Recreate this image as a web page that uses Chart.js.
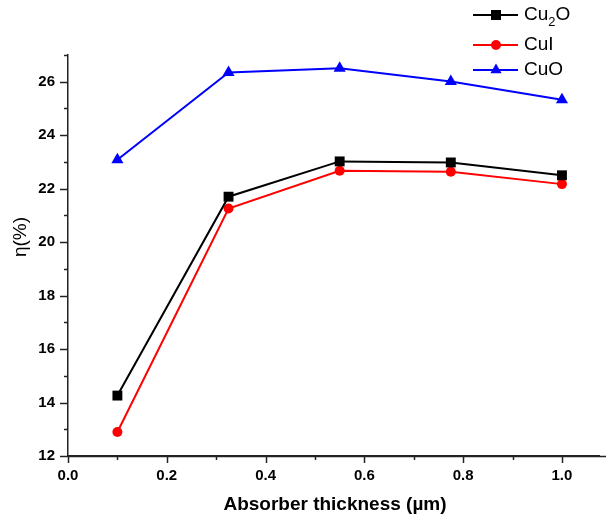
<!DOCTYPE html>
<html>
<head>
<meta charset="utf-8">
<script src="https://cdn.jsdelivr.net/npm/chart.js@4.4.1/dist/chart.umd.min.js"></script>
<style>
  html, body { margin: 0; padding: 0; background: #fff; }
  #wrap { width: 606px; height: 520px; }
</style>
</head>
<body>
<div id="wrap"><canvas id="chart" width="606" height="520"></canvas></div>
<script>
// absorber thickness (um)
const thickness = [0.1, 0.325, 0.55, 0.775, 1.0];

// efficiency (%) per HTL
const cu2o = [14.26, 21.7, 23.02, 22.98, 22.5];
const cui = [12.9, 21.26, 22.67, 22.63, 22.17];
const cuo = [23.08, 26.35, 26.5, 26.01, 25.33];

const xTicks = [0.0, 0.2, 0.4, 0.6, 0.8, 1.0];
const yTicks = [12, 14, 16, 18, 20, 22, 24, 26];

const FONT = '"Liberation Sans", Arial, sans-serif';

function pts(values) {
    return thickness.map((t, i) => ({ x: t, y: values[i] }));
}

// draw a legend marker like the chart ones
function marker(ctx, style, x, y, color) {
    ctx.fillStyle = color;
    ctx.beginPath();
    if (style === "rect") {
        ctx.rect(x - 5, y - 5, 10, 10);
    } else if (style === "circle") {
        ctx.arc(x, y, 5, 0, Math.PI * 2);
    } else {
        ctx.moveTo(x, y - 6.5);
        ctx.lineTo(x + 5.6, y + 3.2);
        ctx.lineTo(x - 5.6, y + 3.2);
        ctx.closePath();
    }
    ctx.fill();
}

// ticks, axis titles and legend
const extras = {
    id: "extras",
    afterDraw(chart) {
        const ctx = chart.ctx;
        const xs = chart.scales.x;
        const ys = chart.scales.y;
        const area = chart.chartArea;

        ctx.save();
        ctx.strokeStyle = "#222";
        ctx.lineWidth = 1.5;

        // x axis line runs to the canvas edge
        ctx.beginPath();
        ctx.moveTo(area.left, area.bottom + 0.5);
        ctx.lineTo(chart.width, area.bottom + 0.5);
        ctx.stroke();

        // x ticks, minor every 0.1
        for (let i = 0; i <= 10; i++) {
            const px = Math.round(xs.getPixelForValue(i / 10)) + 0.5;
            const len = i % 2 === 0 ? 7 : 4;
            ctx.beginPath();
            ctx.moveTo(px, area.bottom);
            ctx.lineTo(px, area.bottom + len);
            ctx.stroke();
        }
        // y ticks, minor every 1
        for (let v = 12; v <= 27; v++) {
            const py = Math.round(ys.getPixelForValue(v)) + 0.5;
            const len = v % 2 === 0 ? 8 : 4;
            ctx.beginPath();
            ctx.moveTo(area.left, py);
            ctx.lineTo(area.left - len, py);
            ctx.stroke();
        }

        // axis titles
        ctx.fillStyle = "#000";
        ctx.textAlign = "center";
        ctx.textBaseline = "middle";
        ctx.font = "bold 19px " + FONT;
        ctx.fillText("Absorber thickness (\u00b5m)", 335, 505);

        ctx.save();
        ctx.translate(21, 237);
        ctx.rotate(-Math.PI / 2);
        ctx.font = "19px " + FONT;
        ctx.fillText("\u03b7(%)", 0, 0);
        ctx.restore();

        // legend
        const rows = [
            { name: "Cu", sub: "2", tail: "O", color: "#000000", style: "rect", y: 15 },
            { name: "CuI", color: "#ff0000", style: "circle", y: 45 },
            { name: "CuO", color: "#0000ff", style: "triangle", y: 70 }
        ];
        rows.forEach(r => {
            ctx.strokeStyle = r.color;
            ctx.lineWidth = 2;
            ctx.beginPath();
            ctx.moveTo(473, r.y);
            ctx.lineTo(518, r.y);
            ctx.stroke();
            marker(ctx, r.style, 496, r.y, r.color);

            ctx.fillStyle = "#000";
            ctx.textAlign = "left";
            ctx.textBaseline = "middle";
            ctx.font = "19px " + FONT;
            let x = 524;
            ctx.fillText(r.name, x, r.y);
            if (r.sub) {
                x += ctx.measureText(r.name).width;
                ctx.font = "13px " + FONT;
                ctx.fillText(r.sub, x, r.y + 7);
                x += ctx.measureText(r.sub).width;
                ctx.font = "19px " + FONT;
                ctx.fillText(r.tail, x, r.y);
            }
        });
        ctx.restore();
    }
};

new Chart(document.getElementById("chart"), {
    type: "line",
    data: {
        datasets: [
            {
                label: "Cu2O",
                data: pts(cu2o),
                borderColor: "#000000",
                backgroundColor: "#000000",
                borderWidth: 2,
                pointStyle: "rect",
                pointRadius: 7,
                pointBorderWidth: 0,
                tension: 0
            },
            {
                label: "CuI",
                data: pts(cui),
                borderColor: "#ff0000",
                backgroundColor: "#ff0000",
                borderWidth: 2,
                pointStyle: "circle",
                pointRadius: 5,
                pointBorderWidth: 0,
                tension: 0
            },
            {
                label: "CuO",
                data: pts(cuo),
                borderColor: "#0000ff",
                backgroundColor: "#0000ff",
                borderWidth: 2,
                pointStyle: "triangle",
                pointRadius: 7,
                pointBorderWidth: 0,
                tension: 0
            }
        ]
    },
    options: {
        responsive: false,
        animation: false,
        layout: { padding: { top: 55, right: 0, left: 0, bottom: 0 } },
        plugins: {
            legend: { display: false },
            tooltip: { enabled: false }
        },
        scales: {
            x: {
                type: "linear",
                min: 0,
                max: 1.075,
                afterBuildTicks: s => { s.ticks = xTicks.map(v => ({ value: v })); },
                afterFit: s => { s.height = 64; },
                grid: { display: false, drawTicks: false },
                border: { display: true, color: "#222", width: 1.5 },
                ticks: {
                    padding: 11,
                    color: "#000",
                    font: { family: FONT, size: 15, weight: "bold" },
                    maxRotation: 0,
                    callback: v => v.toFixed(1)
                }
            },
            y: {
                type: "linear",
                min: 12,
                max: 27,
                afterBuildTicks: s => { s.ticks = yTicks.map(v => ({ value: v })); },
                afterFit: s => { s.width = 68; },
                grid: { display: false, drawTicks: false },
                border: { display: true, color: "#222", width: 1.5 },
                ticks: {
                    padding: 13,
                    color: "#000",
                    font: { family: FONT, size: 15, weight: "bold" },
                    callback: v => String(v)
                }
            }
        }
    },
    plugins: [extras]
});
</script>
</body>
</html>
